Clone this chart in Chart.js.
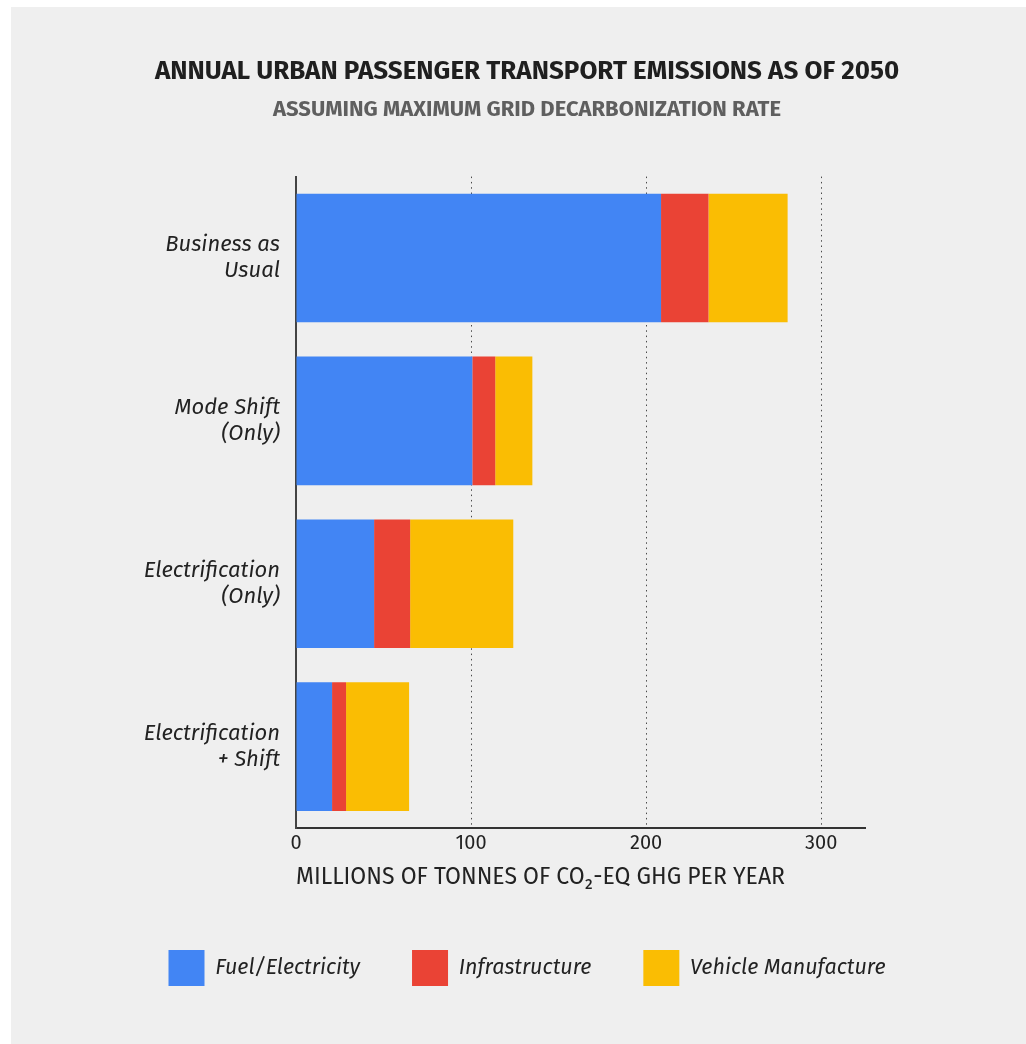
<!DOCTYPE html>
<html>
<head>
<meta charset="utf-8">
<script src="https://cdn.jsdelivr.net/npm/chart.js@4.4.1/dist/chart.umd.min.js"></script>
<style>
  html, body { margin: 0; padding: 0; background: #ffffff; overflow: hidden; }
  #panel {
    position: absolute; left: 11px; top: 7px; width: 1015px; height: 1037px;
    background: #efefef; overflow: hidden;
  }
  #wrap { position: absolute; left: 0; top: 0; width: 1032px; height: 1037px; }
</style>
</head>
<body>
<div id="panel"><div id="wrap"><canvas id="chart"></canvas></div></div>
<script>
// Scenarios (two-line labels) and emissions per component, Mt CO2-eq per year
const scenarios = [
  ['Business as', 'Usual'],
  ['Mode Shift', '(Only)'],
  ['Electrification', '(Only)'],
  ['Electrification', '+ Shift']
];
const fuelElectricity = [208.5, 100.7, 44.6, 20.6];
const infrastructure = [27.1, 13.1, 20.6, 8.0];
const vehicleManufacture = [45.2, 21.2, 58.9, 36.0];
const xTicks = [0, 100, 200, 300];

const FONT = "'Fira Sans', Lato, 'Open Sans', sans-serif";
const INK = '#222222';

new Chart(document.getElementById('chart'), {
  type: 'bar',
  data: {
    labels: scenarios,
    datasets: [
      { label: 'Fuel/Electricity', data: fuelElectricity, backgroundColor: '#4285f4' },
      { label: 'Infrastructure', data: infrastructure, backgroundColor: '#ea4335' },
      { label: 'Vehicle Manufacture', data: vehicleManufacture, backgroundColor: '#fabd03' }
    ]
  },
  options: {
    indexAxis: 'y',
    responsive: true,
    maintainAspectRatio: false,
    animation: false,
    datasets: { bar: { barPercentage: 0.79, categoryPercentage: 1, borderWidth: 0 } },
    layout: { padding: { left: 0, right: 0, top: 0, bottom: 48 } },
    scales: {
      x: {
        stacked: true,
        min: 0,
        max: 325,
        afterBuildTicks: (scale) => { scale.ticks = xTicks.map(v => ({ value: v })); },
        afterFit: (scale) => { scale.height = 70; },
        ticks: { color: INK, padding: 3, font: { family: FONT, size: 20 } },
        grid: {
          drawTicks: false,
          color: (ctx) => ctx.tick && ctx.tick.value === 0 ? 'rgba(0,0,0,0)' : '#4a4a4a',
          lineWidth: 1
        },
        border: { display: true, color: '#333333', width: 2, dash: [1.5, 3.8] },
        title: {
          display: true,
          align: 'start',
          text: 'MILLIONS OF TONNES OF CO\u2082-EQ GHG PER YEAR',
          color: INK,
          font: { family: FONT, size: 23 },
          padding: { top: 0, bottom: 7 }
        }
      },
      y: {
        stacked: true,
        afterFit: (scale) => { scale.width = 285; },
        grid: { display: false, drawTicks: false },
        border: { display: true, color: '#444444', width: 2 },
        ticks: {
          color: INK,
          padding: 16,
          font: { family: FONT, size: 22, style: 'italic', lineHeight: 1.18 }
        }
      },
      // empty right-hand gutter so the plot ends well before the right edge
      gutter: {
        type: 'category',
        axis: 'y',
        position: 'right',
        afterFit: (scale) => { scale.width = 178; },
        grid: { display: false, drawTicks: false },
        border: { display: false },
        ticks: { display: false }
      }
    },
    plugins: {
      tooltip: { enabled: false },
      title: {
        display: true,
        text: 'ANNUAL URBAN PASSENGER TRANSPORT EMISSIONS AS OF 2050',
        color: '#1f1f1f',
        font: { family: FONT, size: 26, weight: 'bold' },
        padding: { top: 49, bottom: 0 }
      },
      subtitle: {
        display: true,
        text: 'ASSUMING MAXIMUM GRID DECARBONIZATION RATE',
        color: '#5f5f5f',
        font: { family: FONT, size: 22, weight: 'bold' },
        padding: { top: 9, bottom: 54 }
      },
      legend: {
        position: 'bottom',
        labels: {
          boxWidth: 36,
          boxHeight: 36,
          padding: 52,
          color: INK,
          font: { family: FONT, size: 21.5, style: 'italic' }
        }
      }
    }
  }
});
</script>
</body>
</html>
